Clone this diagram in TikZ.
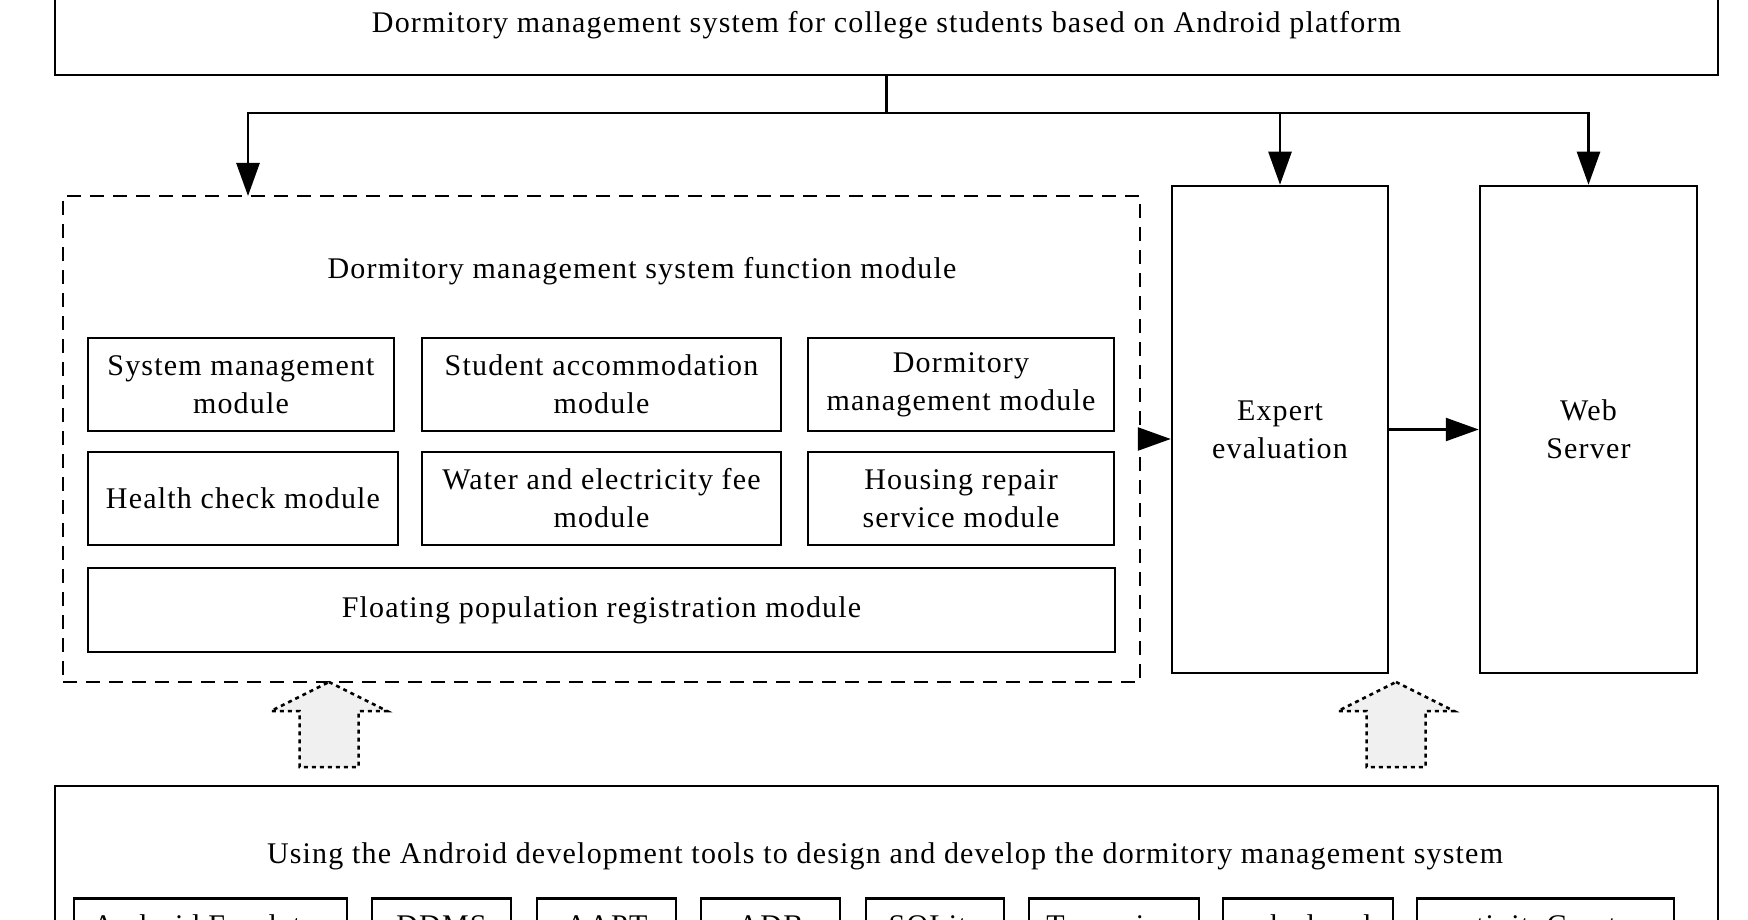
\documentclass[tikz,border=0pt]{standalone}
\usepackage{fontspec}
\setmainfont{Liberation Serif}[LetterSpace=4]
\usetikzlibrary{arrows.meta, positioning}

\begin{document}
\begin{tikzpicture}[x=1pt, y=-1pt,
		every node/.style={font=\fontsize{30}{38}\selectfont},
		box/.style={draw, line width=2.5pt, align=center},
		arr/.style={line width=2.5pt, arrows={-Triangle[length=33pt, width=23pt]}},
		uparrow/.style={draw, line width=2.5pt, dash pattern=on 4pt off 4pt, fill=black!6}]
		\useasboundingbox (0, 0) rectangle (1748, 920);
		\clip (0, 0) rectangle (1748, 920);
		% top and bottom frames
		\node[box, minimum width=1663pt, minimum height=100pt] (top) at (886.5, 25) {Dormitory management system for college students based on Android platform};
		\node[box, minimum width=1663pt, minimum height=214pt] (tools) at (886.5, 893) {};
		\node (toolstitle) at (885, 856) {Using the Android development tools to design and develop the dormitory management system};
		% function modules
		\node[box, dash pattern=on 14pt off 9pt, minimum width=1077pt, minimum height=486pt] (func) at (601.5, 439) {};
		\node (functitle) at (642, 271) {Dormitory management system function module};
		\node[box, minimum width=306pt, minimum height=93pt] (sysm) at (241, 384.5) {System management\\module};
		\node[box, minimum width=359pt, minimum height=93pt] (stud) at (601.5, 384.5) {Student accommodation\\module};
		\node[box, minimum width=306pt, minimum height=93pt] (dorm) at (961, 384.5) {Dormitory\\management module};
		\node[box, minimum width=310pt, minimum height=93pt] (health) at (243, 498.5) {Health check module};
		\node[box, minimum width=359pt, minimum height=93pt] (fee) at (601.5, 498.5) {Water and electricity fee\\module};
		\node[box, minimum width=306pt, minimum height=93pt] (repair) at (961, 498.5) {Housing repair\\service module};
		\node[box, minimum width=1027pt, minimum height=84pt] (float) at (601.5, 610) {Floating population registration module};
		% right columns
		\node[box, minimum width=216pt, minimum height=487pt] (expert) at (1280, 429.5) {Expert\\evaluation};
		\node[box, minimum width=217pt, minimum height=487pt] (web) at (1588.5, 429.5) {Web\\Server};
		% tools row
		\foreach \cx/\w/\name [count=\i] in {210.5/273/Android Emulator, 441.5/139/DDMS, 606.5/139/AAPT, 770.5/139/ADB, 935/138/SQLite, 1114/170/Traceview, 1308/170/mksdcard, 1545.5/257/activityCreator}
			\node[box, anchor=north, minimum width=\w pt, minimum height=60pt, text height=21pt, text depth=7pt] (tool\i) at (\cx, 897) {\name};
		% connectors
		\coordinate (split) at (886.5, 113);
		\coordinate (funcin) at (248, 196);
		\draw[arr] (top.south) -- (split) -| (funcin);
		\draw[arr] (split) -| (expert.north);
		\draw[arr] (split) -| (web.north);
		\draw[arr] (func.east) -- (func.east -| expert.west);
		\draw[arr] (expert) -- (web);
		% hollow arrows up from the tools
		\foreach \x in {329, 1396}
			\draw[uparrow] (\x, 682) -- (\x + 58, 711) -- (\x + 29.5, 711) -- (\x + 29.5, 767) -- (\x - 29.5, 767) -- (\x - 29.5, 711) -- (\x - 58, 711) -- cycle;
	\end{tikzpicture}
\end{document}
